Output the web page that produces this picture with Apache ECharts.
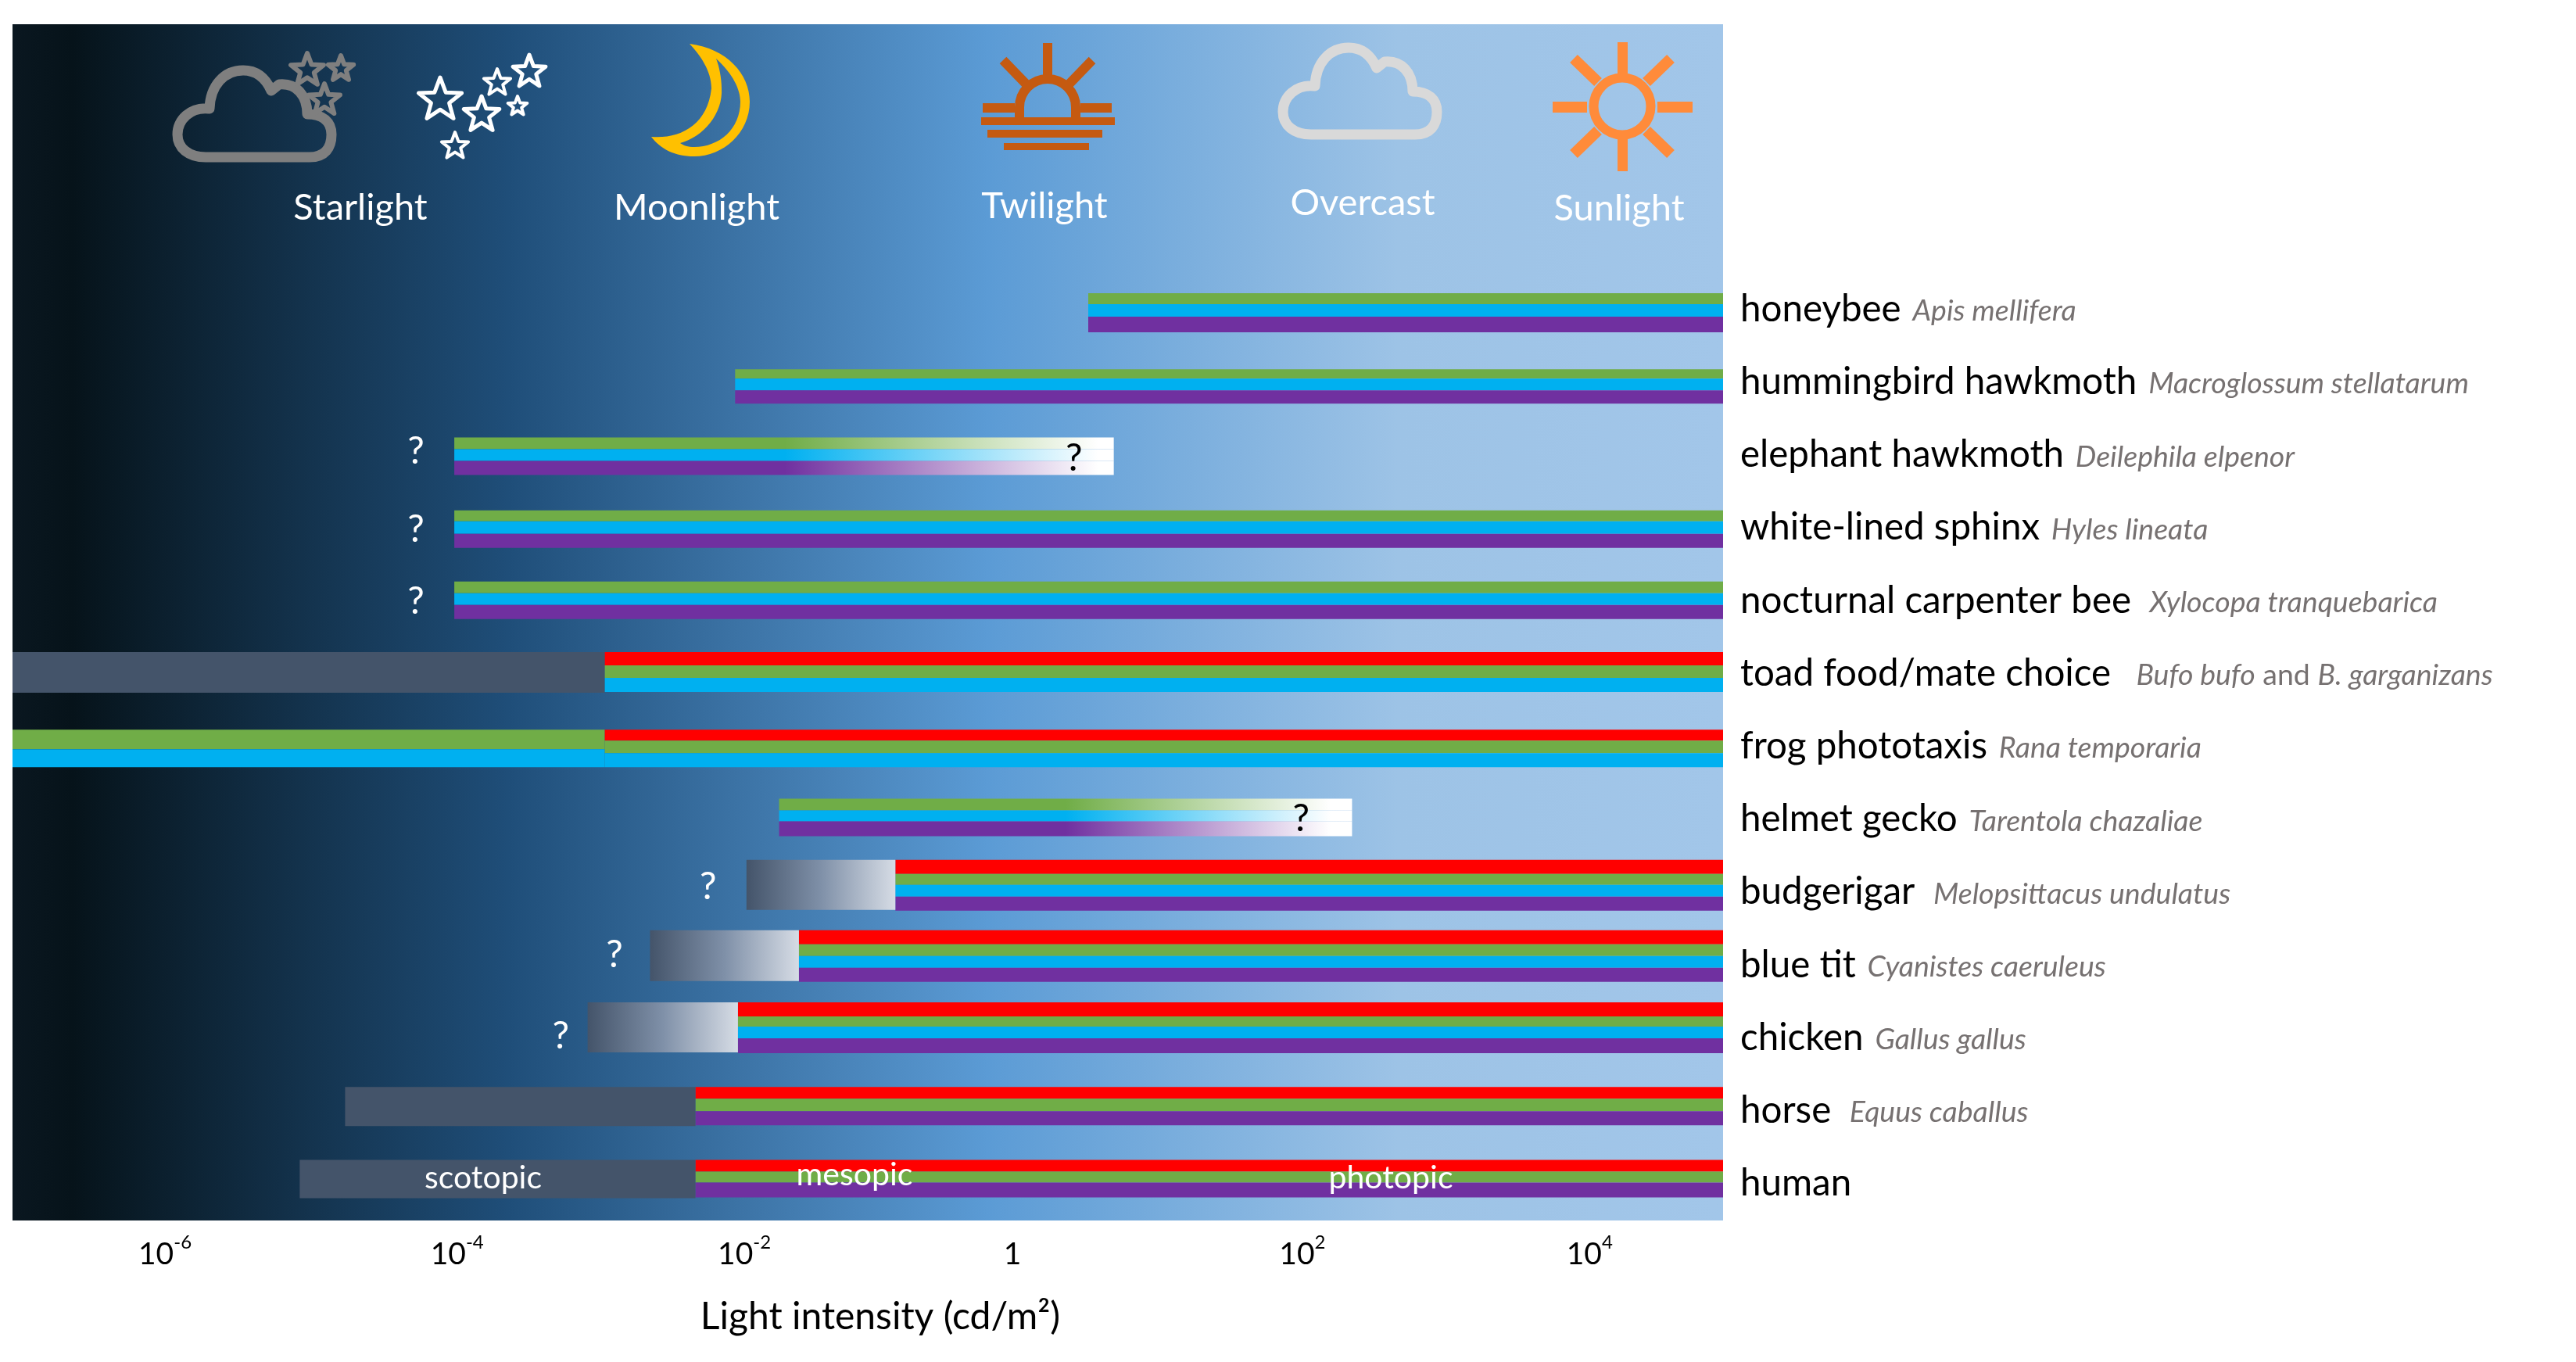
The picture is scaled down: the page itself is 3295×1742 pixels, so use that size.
<!DOCTYPE html>
<html>
<head>
<meta charset="utf-8">
<title>Light intensity ranges of colour vision</title>
<script src="https://cdn.jsdelivr.net/npm/echarts@6/dist/echarts.min.js"></script>
<style>
  html, body { margin: 0; padding: 0; background: #fff; }
  #chart { width: 3295px; height: 1742px; }
</style>
</head>
<body>
<div id="chart"></div>
<script>
// all x values are log10(cd/m2)
var species = ["honeybee", "hummingbird hawkmoth", "elephant hawkmoth", "white-lined sphinx",
  "nocturnal carpenter bee", "toad food/mate choice", "frog phototaxis", "helmet gecko",
  "budgerigar", "blue tit", "chicken", "horse", "human"];
var latinNames = ["Apis mellifera", "Macroglossum stellatarum", "Deilephila elpenor", "Hyles lineata",
  "Xylocopa tranquebarica", "Bufo bufo| and |B. garganizans", "Rana temporaria", "Tarentola chazaliae",
  "Melopsittacus undulatus", "Cyanistes caeruleus", "Gallus gallus", "Equus caballus", ""];
var latinGaps = [" ", " ", " ", " ", "  ", "   ", " ", " ", "  ", " ", " ", "  ", ""];

var AXIS_MIN = -7.105, AXIS_MAX = 4.956;

// where the coloured part of each row starts and stops
var colourStart = [0.48, -2.01, -3.99, -3.99, -3.99, -2.93, -2.93, -1.70, -0.88, -1.56, -1.99, -2.29, -2.29];
var colourEnd = [AXIS_MAX, AXIS_MAX, 0.66, AXIS_MAX, AXIS_MAX, AXIS_MAX, AXIS_MAX, 2.34, AXIS_MAX, AXIS_MAX, AXIS_MAX, AXIS_MAX, AXIS_MAX];
// where the colour starts to fade to white (null = no fade)
var fadeFrom = [null, null, -1.66, null, null, null, null, 0.32, null, null, null, null, null];
var fadeWhite = [null, null, 0.55, null, null, null, null, 2.19, null, null, null, null, null];
var rowCones = ["gbp", "gbp", "gbp", "gbp", "gbp", "rgb", "rgb", "gbp", "rgbp", "rgbp", "rgbp", "rgp", "rgp"];

// grey (rod) ranges: [row, start, end, fades to light]
var rodRanges = [[5, -7.105, -2.93, 0], [8, -1.93, -0.88, 1], [9, -2.61, -1.56, 1],
  [10, -3.05, -1.99, 1], [11, -4.76, -2.29, 0], [12, -5.08, -2.29, 0]];
// frog has a two-cone range below the red cone threshold
var frogLow = [6, -7.105, -2.93];

// question marks: [x, row, black?]
var questionMarks = [[-4.26, 1.93, 0], [-4.26, 3.0, 0], [-4.26, 3.99, 0], [-2.20, 7.90, 0],
  [-2.86, 8.83, 0], [-3.24, 9.95, 0], [0.38, 2.02, 1], [1.98, 6.97, 1]];

// the tick labels sit a little off the true decades in the picture
var tickPlaces = [-6.03, -3.97, -1.945, -0.055, 1.99, 4.015];
var tickExponents = ["-6", "-4", "-2", "", "2", "4"];

var phaseNames = ["scotopic", "mesopic", "photopic"];
var lightNames = ["Starlight", "Moonlight", "Twilight", "Overcast", "Sunlight"];

// layout of the stripes, px around the row centre
var rowTop = [-20, -16, -22, -22, -24, -27, -21, -26, -41, -44, -45, -30, -30];
var stripePx = [[14, 16, 20], [12, 15, 17], [15, 15, 18], [14, 16, 18], [15, 15, 18], [17, 16, 18],
  [14, 16, 18], [15, 14, 19], [18, 14, 15, 18], [18, 15, 15, 18], [18, 13, 15, 19], [15, 16, 18], [15, 14, 19]];
var frogLowPx = [25, 23];
var coneColour = { r: "#ff0000", g: "#70ad47", b: "#00b0f0", p: "#7030a0" };
var FONT = "Lato, 'Open Sans', sans-serif";

// icon outlines for the graphic component
echarts.graphic.registerShape("cloudIcon", echarts.graphic.extendPath(
  "M42 117 L175 117 C195 117 203 105 203 88 C203 72 192 62 172 62 C172 38 158 22 136 24 L126 32 C118 14 105 6 90 6 C66 6 48 25 47 55 C22 52 6 70 6 88 C6 105 20 117 42 117 Z", {}));
echarts.graphic.registerShape("moonIcon", echarts.graphic.extendPath(
  "M882 56 C930 62 959 95 959 130 C959 170 925 200 888 200 C862 200 845 190 833 175 C870 178 905 160 910 113 C910 90 895 70 882 56 Z M916 75 C920 85 923 100 923 113 C925 145 900 175 870 183 C874 186 880 188 888 188 C920 188 947 165 947 130 C947 115 938 95 916 75 Z", {}));

function hGrad(stops) {
  return new echarts.graphic.LinearGradient(0, 0, 1, 0, stops);
}
function stop(x0, x1, v) {
  return Math.max(0, Math.min(1, (v - x0) / (x1 - x0)));
}

var segments = [];
species.forEach(function (s, i) {
  segments.push([colourStart[i], colourEnd[i], i, "cones"]);
});
rodRanges.forEach(function (r) {
  segments.push([r[1], r[2], r[0], r[3] ? "rodFade" : "rod"]);
});
segments.push([frogLow[1], frogLow[2], frogLow[0], "frogLow"]);

function renderSegment(params, api) {
  var x0 = api.value(0), x1 = api.value(1), row = api.value(2), kind = api.value(3);
  var a = api.coord([x0, row]), b = api.coord([x1, row]);
  var top = a[1] + rowTop[row];
  var heights = stripePx[row];
  var total = heights.reduce(function (p, c) { return p + c; }, 0);
  var kids = [];
  function rect(y, h, fill) {
    kids.push({ type: "rect", shape: { x: a[0], y: y, width: b[0] - a[0], height: h }, style: { fill: fill } });
  }
  if (kind === "rod") {
    rect(top, total + 1, "#44546a");
  } else if (kind === "rodFade") {
    rect(top, total - 1, hGrad([{ offset: 0, color: "#44546a" }, { offset: 0.5, color: "#7f90a8" }, { offset: 1, color: "#d6dce5" }]));
  } else if (kind === "frogLow") {
    rect(top, frogLowPx[0], coneColour.g);
    rect(top + frogLowPx[0], frogLowPx[1], coneColour.b);
  } else {
    var cones = rowCones[row];
    var y = top;
    for (var k = 0; k < cones.length; k++) {
      var col = coneColour[cones[k]];
      if (fadeFrom[row] !== null) {
        col = hGrad([{ offset: 0, color: col },
          { offset: stop(x0, x1, fadeFrom[row]), color: col },
          { offset: stop(x0, x1, fadeWhite[row]), color: "#ffffff" },
          { offset: 1, color: "#ffffff" }]);
      }
      rect(y, heights[k], col);
      y += heights[k];
    }
  }
  return { type: "group", children: kids };
}

function renderQuestion(params, api) {
  var p = api.coord([api.value(0), api.value(1)]);
  return {
    type: "text",
    style: {
      text: "?", x: p[0], y: p[1] + 3, align: "center", verticalAlign: "middle",
      fill: api.value(2) ? "#000" : "#fff", font: "48px " + FONT
    }
  };
}

function starPoints(cx, cy, r) {
  var pts = [];
  for (var i = 0; i < 10; i++) {
    var rad = i % 2 ? r * 0.42 : r;
    var t = -Math.PI / 2 + i * Math.PI / 5;
    pts.push([cx + rad * Math.cos(t), cy + rad * Math.sin(t)]);
  }
  return pts;
}
function star(cx, cy, r, color, w) {
  return { type: "polygon", shape: { points: starPoints(cx, cy, r) }, style: { fill: "none", stroke: color, lineWidth: w, lineJoin: "round" } };
}
function cloud(x, y, color) {
  return { type: "cloudIcon", x: x, y: y, style: { fill: "none", stroke: color, lineWidth: 13, lineJoin: "round" } };
}
function bar(x, y, w, h, color) {
  return { type: "rect", shape: { x: x, y: y, width: w, height: h }, style: { fill: color } };
}
function ray(x1, y1, x2, y2, color, w) {
  return { type: "line", shape: { x1: x1, y1: y1, x2: x2, y2: y2 }, style: { stroke: color, lineWidth: w } };
}
function label(text, x, y, size) {
  return {
    type: "text", z: 200,
    style: { text: text, x: x, y: y, align: "center", verticalAlign: "middle", fill: "#fff", font: size + "px " + FONT }
  };
}

var TWILIGHT = "#c55a11", SUN = "#ff8b3a", GREY = "#7f7f7f";
var icons = [
  cloud(221, 84, GREY),
  star(393, 90, 22, GREY, 6), star(436, 88, 17, GREY, 6), star(415, 128, 21, GREY, 6),
  star(563, 128, 29, "#fff", 5), star(616, 147, 24, "#fff", 5), star(636, 106, 18, "#fff", 4),
  star(677, 92, 22, "#fff", 5), star(662, 136, 13, "#fff", 4), star(582, 187, 18, "#fff", 4),
  { type: "moonIcon", style: { fill: "#ffc000" } },
  // twilight
  { type: "arc", shape: { cx: 1340, cy: 137, r: 36, startAngle: Math.PI, endAngle: Math.PI * 2, clockwise: true }, style: { fill: "none", stroke: TWILIGHT, lineWidth: 12 } },
  ray(1304, 137, 1304, 152, TWILIGHT, 12), ray(1376, 137, 1376, 152, TWILIGHT, 12),
  bar(1334, 55, 12, 42, TWILIGHT),
  ray(1283, 77, 1312, 107, TWILIGHT, 12), ray(1397, 77, 1368, 107, TWILIGHT, 12),
  bar(1257, 132, 41, 12, TWILIGHT), bar(1382, 132, 40, 12, TWILIGHT),
  bar(1255, 150, 171, 10, TWILIGHT), bar(1263, 166, 147, 10, TWILIGHT), bar(1284, 183, 109, 9, TWILIGHT),
  cloud(1635, 55, "#d9d9d9"),
  // sun
  { type: "circle", shape: { cx: 2075, cy: 136, r: 36.5 }, style: { fill: "none", stroke: SUN, lineWidth: 12 } },
  bar(2069, 54, 13, 42, SUN), bar(2069, 176, 13, 43, SUN),
  bar(1986, 130, 44, 14, SUN), bar(2120, 130, 45, 14, SUN),
  ray(2013, 75, 2044, 105, SUN, 14), ray(2137, 75, 2106, 105, SUN, 14),
  ray(2013, 197, 2044, 167, SUN, 14), ray(2137, 197, 2106, 167, SUN, 14)
];

var texts = [
  label(lightNames[0], 461, 266, 47), label(lightNames[1], 891, 266, 47), label(lightNames[2], 1336, 264, 47),
  label(lightNames[3], 1743, 260, 47), label(lightNames[4], 2071, 267, 47),
  label(phaseNames[0], 618, 1507, 41), label(phaseNames[1], 1093, 1503, 41), label(phaseNames[2], 1779, 1507, 41)
];

function rowLabel(value) {
  var i = Math.round(value);
  var s = "{name|" + species[i] + "}";
  if (latinNames[i]) {
    var parts = latinNames[i].split("|");
    s += "{latin|" + latinGaps[i] + parts[0] + "}";
    if (parts.length > 1) s += "{plain|" + parts[1] + "}{latinB|" + parts[2] + "}";
  }
  return s;
}

var chart = echarts.init(document.getElementById("chart"), null, { renderer: "canvas" });
chart.setOption({
  animation: false,
  backgroundColor: "#fff",
  grid: {
    left: 16, right: 1091, top: 31, bottom: 181, show: true, borderWidth: 0,
    backgroundColor: hGrad([
      { offset: 0, color: "#0a1720" }, { offset: 0.035, color: "#06131a" },
      { offset: 0.29, color: "#1f4e79" }, { offset: 0.57, color: "#5b9bd5" },
      { offset: 0.81, color: "#9dc3e6" }, { offset: 1, color: "#a2c6e9" }
    ])
  },
  xAxis: {
    type: "value", min: AXIS_MIN, max: AXIS_MAX,
    axisLine: { show: false }, axisTick: { show: false }, splitLine: { show: false },
    axisLabel: {
      customValues: tickPlaces, margin: 16,
      formatter: function (v) {
        var e = tickExponents[tickPlaces.indexOf(v)];
        return e === "" ? "{b|1}" : "{b|10}{s|" + e + "}";
      },
      rich: {
        b: { fontFamily: FONT, fontSize: 39, color: "#000", lineHeight: 46, padding: [8, 0, 0, 0] },
        s: { fontFamily: FONT, fontSize: 24, color: "#000", lineHeight: 28, verticalAlign: "top" }
      }
    },
    name: "Light intensity (cd/m²)", nameLocation: "middle", nameGap: 100,
    nameTextStyle: { fontFamily: FONT, fontSize: 48, color: "#000", padding: [0, 0, 0, 32] }
  },
  yAxis: {
    type: "value", inverse: true, position: "right", min: -3.906, max: 12.51,
    axisLine: { show: false }, axisTick: { show: false }, splitLine: { show: false },
    axisLabel: {
      customValues: species.map(function (s, i) { return i; }), margin: 22, align: "left",
      formatter: rowLabel,
      rich: {
        name: { fontFamily: FONT, fontSize: 47.5, color: "#000", padding: [1, 0, 0, 0] },
        latin: { fontFamily: FONT, fontSize: 37.5, fontStyle: "italic", color: "#767171", padding: [6, 0, 0, 6] },
        latinB: { fontFamily: FONT, fontSize: 37.5, fontStyle: "italic", color: "#767171", padding: [6, 0, 0, 0] },
        plain: { fontFamily: FONT, fontSize: 37.5, color: "#767171", padding: [6, 0, 0, 0] }
      }
    }
  },
  graphic: { elements: icons.concat(texts) },
  series: [
    {
      type: "custom", name: "ranges", coordinateSystem: "cartesian2d", data: segments,
      encode: { x: [0, 1], y: 2 }, renderItem: renderSegment, clip: true, silent: true,
      dimensions: ["start", "end", "row", { name: "kind", type: "ordinal" }]
    },
    {
      type: "custom", name: "unknown limits", coordinateSystem: "cartesian2d", data: questionMarks,
      encode: { x: 0, y: 1 }, renderItem: renderQuestion, z: 5, silent: true
    }
  ]
});
</script>
</body>
</html>
